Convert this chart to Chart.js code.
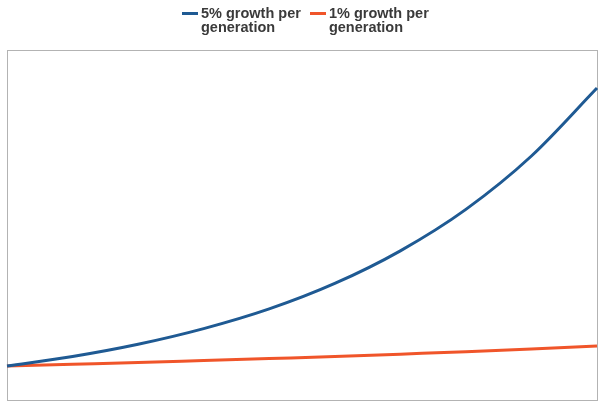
<!DOCTYPE html>
<html>
<head>
<meta charset="utf-8">
<script src="https://cdn.jsdelivr.net/npm/chart.js@4"></script>
<style>
  html, body { margin: 0; padding: 0; background: #ffffff; }
  #wrap { position: relative; width: 600px; height: 405px; }
  #legend {
    position: absolute; top: 6px; left: 182px;
    display: flex; gap: 9px;
    font-family: "Liberation Sans", Arial, sans-serif;
    font-size: 14.5px; font-weight: bold; line-height: 14px;
    color: #3a3a3a;
  }
  .item { display: flex; align-items: flex-start; }
  .mark { width: 16px; height: 3px; margin-top: 6px; margin-right: 3px; }
</style>
</head>
<body>
<div id="wrap">
  <canvas id="growthChart"></canvas>
  <div id="legend"></div>
</div>
<script>
// generations (x) and population size, starting from 100
const generations = [0, 5, 10, 15, 20, 25, 30, 35, 40, 45];
const fivePercent = [100, 128, 164, 210, 268, 343, 439, 561, 718, 918];
const onePercent = [100, 105, 110, 116, 122, 128, 135, 142, 150, 159];

const seriesNames = [
  ["5% growth per", "generation"],
  ["1% growth per", "generation"],
];
const seriesColors = ["#1f5a93", "#f0552a"];

// plain grey frame round the plot area
const frame = {
  id: "frame",
  beforeDatasetsDraw(chart) {
    const { ctx, chartArea } = chart;
    ctx.save();
    ctx.strokeStyle = "#b3b3b3";
    ctx.lineWidth = 1;
    ctx.strokeRect(
      Math.round(chartArea.left) + 0.5,
      Math.round(chartArea.top) + 0.5,
      Math.round(chartArea.right - chartArea.left),
      Math.round(chartArea.bottom - chartArea.top)
    );
    ctx.restore();
  },
};

const chart = new Chart(document.getElementById("growthChart"), {
  type: "line",
  data: {
    labels: generations,
    datasets: [
      {
        label: seriesNames[0].join(" "),
        data: fivePercent,
        borderColor: seriesColors[0],
        borderWidth: 3,
        pointRadius: 0,
        cubicInterpolationMode: "monotone",
      },
      {
        label: seriesNames[1].join(" "),
        data: onePercent,
        borderColor: seriesColors[1],
        borderWidth: 3,
        pointRadius: 0,
        cubicInterpolationMode: "monotone",
      },
    ],
  },
  plugins: [frame],
  options: {
    responsive: true,
    maintainAspectRatio: false,
    animation: false,
    layout: {
      padding: { left: 7, right: 3, top: 50, bottom: 5 },
    },
    plugins: {
      legend: { display: false },
      tooltip: { enabled: false },
    },
    scales: {
      x: { display: false },
      y: { display: false, min: 0, max: 1030 },
    },
  },
});

// two-line legend built from the series names
const legend = document.getElementById("legend");
seriesNames.forEach((lines, i) => {
  const item = document.createElement("div");
  item.className = "item";
  const mark = document.createElement("span");
  mark.className = "mark";
  mark.style.background = chart.data.datasets[i].borderColor;
  const text = document.createElement("span");
  text.innerHTML = lines.join("<br>");
  item.appendChild(mark);
  item.appendChild(text);
  legend.appendChild(item);
});
</script>
</body>
</html>
